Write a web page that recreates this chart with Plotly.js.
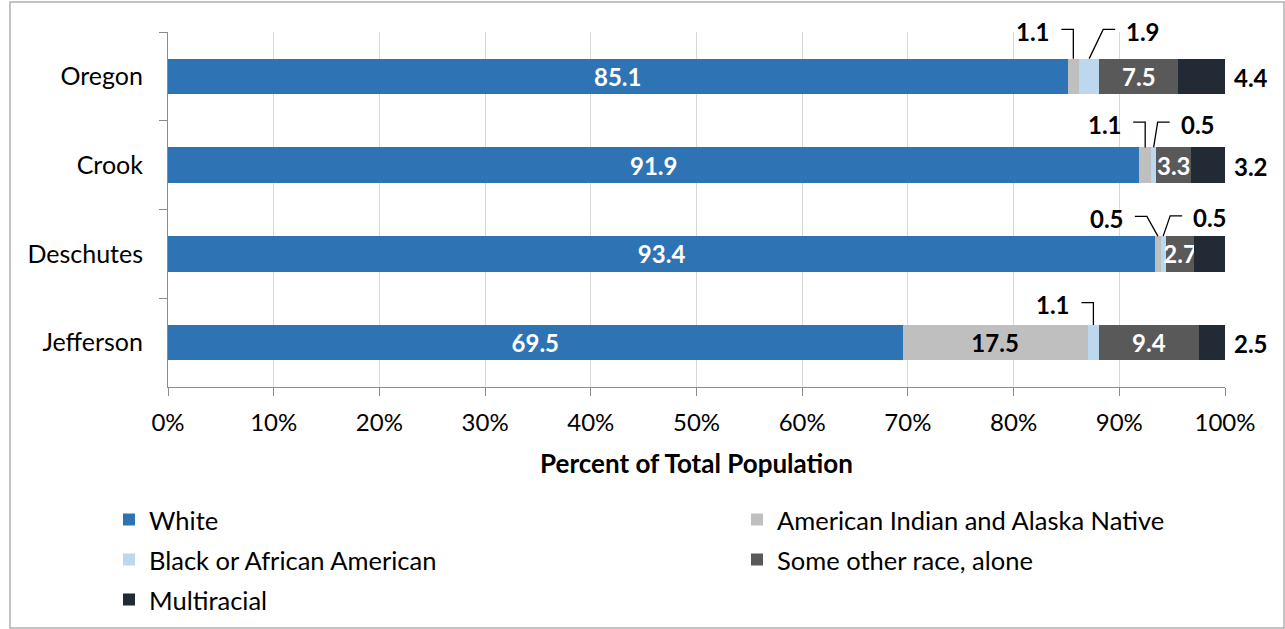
<!DOCTYPE html>
<html>
<head>
<meta charset="utf-8">
<script src="https://cdn.plot.ly/plotly-3.0.1.min.js"></script>
<style>html,body{margin:0;padding:0;background:#fff;}#chart{width:1285px;height:629px;}</style>
</head>
<body>
<div id="chart"></div>
<script>
// ---- data ----
const categories = ['Oregon', 'Crook', 'Deschutes', 'Jefferson'];
const seriesNames = ['White', 'American Indian and Alaska Native', 'Black or African American', 'Some other race, alone', 'Multiracial'];
const white = [85.1, 91.9, 93.4, 69.5];
const aian  = [1.1, 1.1, 0.5, 17.5];
const black = [1.9, 0.5, 0.5, 1.1];
const other = [7.5, 3.3, 2.7, 9.4];
const multi = [4.4, 3.2, 2.9, 2.5];
const tickValues = [0, 10, 20, 30, 40, 50, 60, 70, 80, 90, 100];
const tickLabels = ['0%', '10%', '20%', '30%', '40%', '50%', '60%', '70%', '80%', '90%', '100%'];

// ---- styling / placement ----
const FONT = 'Lato, "Open Sans", sans-serif';
const colors = ['#2E74B5', '#BFBFBF', '#BDD7EE', '#595959', '#222A35'];
const W = 1285, H = 629;
const M = {l: 168, r: 60, t: 32, b: 242, autoexpand: false};
const plotW = W - M.l - M.r, plotH = H - M.t - M.b;
const pxX = 100 / plotW;     // x data units per px
const pxP = 1 / plotH;       // paper units per px (y)
const barWidth = 0.4;
const nCat = categories.length;
// category index (+ offset in category units) -> paper y, axis reversed (first category on top)
const catToPaper = c => 1 - (c + 0.5) / nCat;

const series = [white, aian, black, other, multi];
const fmt = v => v.toFixed(1);

// which segments are labelled inside the bar
const insideText = [
  white.map(fmt),
  aian.map((v, i) => i === 3 ? fmt(v) : ''),
  black.map(() => ''),
  other.map(fmt),
  multi.map(() => '')
];
const insideColor = [
  white.map(() => '#ffffff'),
  aian.map(() => '#000000'),
  black.map(() => '#000000'),
  other.map(() => '#ffffff'),
  multi.map(() => '#ffffff')
];

const legendPos = [
  {x: 109, y: 520}, {x: 737, y: 520},
  {x: 109, y: 560}, {x: 737, y: 560},
  {x: 109, y: 600}
];
const legendIds = ['legend', 'legend2', 'legend3', 'legend4', 'legend5'];

const traces = series.map((vals, s) => ({
  type: 'bar',
  orientation: 'h',
  name: seriesNames[s],
  y: categories,
  x: vals,
  text: insideText[s],
  texttemplate: '<b>%{text}</b>',
  textposition: 'inside',
  insidetextanchor: 'middle',
  constraintext: 'none',
  textangle: 0,
  cliponaxis: false,
  textfont: {family: FONT, size: 24, color: insideColor[s]},
  marker: {color: colors[s], line: {width: 0}},
  width: barWidth,
  legend: legendIds[s],
  hoverinfo: 'name+x'
}));

const shapes = [];
const annotations = [];

// labels right of each bar (Multiracial values)
categories.forEach((cat, c) => {
  let total = 0;
  series.forEach(sv => { total += sv[c]; });
  annotations.push({
    xref: 'x', yref: 'paper', x: total, y: catToPaper(c),
    xanchor: 'left', yanchor: 'middle', xshift: 7, yshift: -1,
    text: '<b>' + fmt(multi[c]) + '</b>', showarrow: false,
    font: {family: FONT, size: 24, color: '#000000'}
  });
});

// callouts with elbow leader lines (dy: px above bar centre, elbow: px offset from segment centre)
const callouts = [
  {s: 1, c: 0, side: 'left',  dy: 47, elbow: 0},
  {s: 2, c: 0, side: 'right', dy: 47, elbow: 14},
  {s: 1, c: 1, side: 'left',  dy: 43, elbow: 0},
  {s: 2, c: 1, side: 'right', dy: 43, elbow: 4},
  {s: 1, c: 2, side: 'left',  dy: 37.5, elbow: -11},
  {s: 2, c: 2, side: 'right', dy: 38, elbow: 7},
  {s: 2, c: 3, side: 'left',  dy: 40, elbow: 0}
];

callouts.forEach(co => {
  let start = 0;
  for (let k = 0; k < co.s; k++) start += series[k][co.c];
  const v = series[co.s][co.c];
  const cx = start + v / 2;
  const top = catToPaper(co.c - barWidth / 2);
  const ly = catToPaper(co.c) + co.dy * pxP;
  const ex = cx + co.elbow * pxX;
  const dir = co.side === 'left' ? -1 : 1;
  const hx = ex + dir * 12 * pxX;
  shapes.push({
    type: 'path', xref: 'x', yref: 'paper',
    path: `M${cx},${top} L${ex},${ly} L${hx},${ly}`,
    line: {color: '#000000', width: 1.3}
  });
  annotations.push({
    xref: 'x', yref: 'paper', x: hx + dir * 9 * pxX, y: ly,
    xanchor: co.side === 'left' ? 'right' : 'left', yanchor: 'middle',
    yshift: -2,
    text: '<b>' + fmt(v) + '</b>', showarrow: false,
    font: {family: FONT, size: 24, color: '#000000'}
  });
});

// outer frame
shapes.push({
  type: 'rect', xref: 'paper', yref: 'paper',
  x0: (10 - M.l) / plotW, x1: (1284 - M.l) / plotW,
  y0: (M.t + plotH - 628) / plotH, y1: (M.t + plotH - 2) / plotH,
  line: {color: '#b0b0b0', width: 1.5}, layer: 'below'
});

const layout = {
  width: W, height: H,
  margin: M,
  paper_bgcolor: '#ffffff', plot_bgcolor: '#ffffff',
  barmode: 'stack',
  font: {family: FONT, size: 24, color: '#000000'},
  xaxis: {
    range: [0, 100], tickmode: 'array', tickvals: tickValues, ticktext: tickLabels,
    showgrid: true, gridcolor: '#d9d9d9', gridwidth: 1,
    showline: true, linecolor: '#8c8c8c', linewidth: 1,
    ticks: 'outside', ticklen: 8, tickcolor: '#8c8c8c',
    zeroline: false, fixedrange: true, automargin: false,
    ticklabelstandoff: 6,
    tickfont: {family: FONT, size: 24, color: '#000000'},
    title: {text: '<b>Percent of Total Population</b>', font: {family: FONT, size: 26, color: '#000000'}, standoff: 20}
  },
  yaxis: {
    type: 'category', range: [nCat - 0.5, -0.5], autorange: false,
    showline: true, linecolor: '#8c8c8c', linewidth: 1,
    ticks: 'outside', tickson: 'boundaries', ticklen: 8, tickcolor: '#8c8c8c',
    showgrid: false, zeroline: false, fixedrange: true, automargin: false,
    ticklabelstandoff: 19,
    tickfont: {family: FONT, size: 25, color: '#000000'}
  },
  shapes: shapes,
  annotations: annotations,
  showlegend: true
};
legendIds.forEach((id, i) => {
  layout[id] = {
    x: (legendPos[i].x - M.l) / plotW,
    y: (M.t + plotH - legendPos[i].y) / plotH,
    xanchor: 'left', yanchor: 'middle',
    orientation: 'h', bgcolor: 'rgba(0,0,0,0)', borderwidth: 0,
    font: {family: FONT, size: 25.5, color: '#000000'},
    itemclick: false, itemdoubleclick: false
  };
});

Plotly.newPlot('chart', traces, layout, {displayModeBar: false, staticPlot: true});
</script>
</body>
</html>
